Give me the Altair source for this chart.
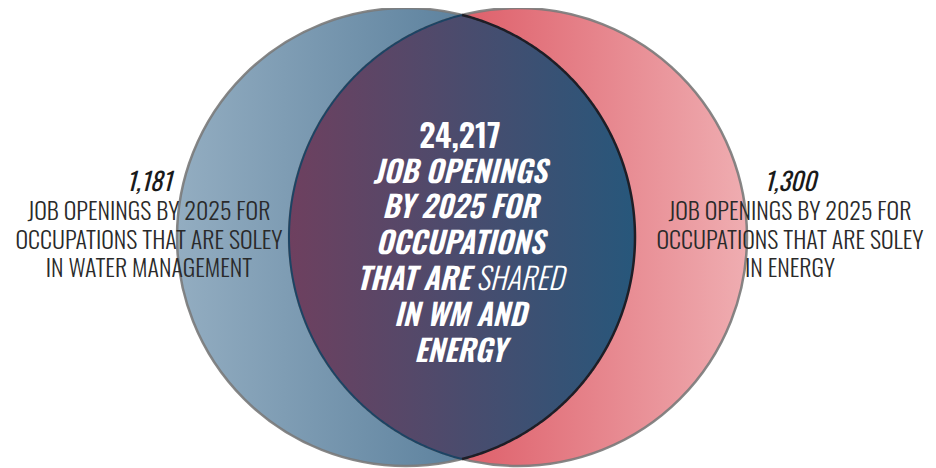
import numpy as np
import pandas as pd
import altair as alt

# ---------------- data ----------------
circle_names = ["Water Management", "Energy"]
circle_cx = [398, 510]          # circle centres (chart units)
circle_cy = [229, 229]
circle_r = [229, 229]

left_value = "1,181"
left_lines = ["JOB OPENINGS BY 2025 FOR", "OCCUPATIONS THAT ARE SOLEY", "IN WATER MANAGEMENT"]
right_value = "1,300"
right_lines = ["JOB OPENINGS BY 2025 FOR", "OCCUPATIONS THAT ARE SOLEY", "IN ENERGY"]
shared_value = "24,217"
shared_lines = ["JOB OPENINGS", "BY 2025 FOR", "OCCUPATIONS", "THAT ARE|SHARED", "IN WM AND", "ENERGY"]

W, H = 920, 460
FONT = "Oswald, Roboto Condensed, sans-serif"

xs = alt.Scale(domain=[0, W], range=[0, W])
ys = alt.Scale(domain=[0, H], range=[0, H])


def grad(stops):
    return alt.LinearGradient(
        gradient="linear",
        stops=[alt.GradientStop(color=c, offset=o) for o, c in stops],
        x1=0, x2=1, y1=0, y2=0,
    )


def circle_layer(i, stops):
    df = pd.DataFrame({"name": [circle_names[i]], "cx": [circle_cx[i]], "cy": [circle_cy[i]],
                       "s": [(2 * circle_r[i]) ** 2]})
    return alt.Chart(df).mark_circle(
        fill=grad(stops), opacity=1, stroke="#7a7a7a", strokeWidth=2.5, strokeOpacity=0.9
    ).encode(
        x=alt.X("cx:Q", scale=xs, axis=None),
        y=alt.Y("cy:Q", scale=ys, axis=None),
        size=alt.Size("s:Q", scale=None, legend=None),
    )


left_c = circle_layer(0, [(0, "#93adc1"), (1, "#3d6889")])
right_c = circle_layer(1, [(0, "#d4303f"), (1, "#efadb1")])

# ---------------- lens (intersection) geometry ----------------
cxL, cxR, cy, r = circle_cx[0], circle_cx[1], circle_cy[0], circle_r[0]
d_half = (cxR - cxL) / 2
t_int = np.arccos(d_half / r)
t = np.linspace(0, t_int, 240)
xl = cxR - r * np.cos(t)
hl = r * np.sin(t)
xr = cxL + r * np.cos(t[::-1])
hr = r * np.sin(t[::-1])
lens = pd.DataFrame({"x": np.concatenate([xl, xr]),
                     "y": cy - np.concatenate([hl, hr]),
                     "y2": cy + np.concatenate([hl, hr])})

lens_area = alt.Chart(lens).mark_area(
    fill=grad([(0, "#6e405f"), (1, "#27577b")]), opacity=1, interpolate="linear"
).encode(
    x=alt.X("x:Q", scale=xs, axis=None),
    y=alt.Y("y:Q", scale=ys, axis=None),
    y2="y2:Q",
)

ta = np.linspace(-t_int, t_int, 300)
arc_left = pd.DataFrame({"x": cxR - r * np.cos(ta), "y": cy + r * np.sin(ta), "o": np.arange(len(ta))})
arc_right = pd.DataFrame({"x": cxL + r * np.cos(ta), "y": cy + r * np.sin(ta), "o": np.arange(len(ta))})


def arc_layer(df, color, w):
    return alt.Chart(df).mark_line(color=color, strokeWidth=w).encode(
        x=alt.X("x:Q", scale=xs, axis=None),
        y=alt.Y("y:Q", scale=ys, axis=None),
        order="o:Q",
    )


arcL = arc_layer(arc_left, "#1c4464", 2)
arcR = arc_layer(arc_right, "#1e1e26", 2.5)

enc = dict(x=alt.X("x:Q", scale=xs, axis=None), y=alt.Y("y:Q", scale=ys, axis=None), text="t:N")


# ---------------- texts ----------------
def side_text(cx_txt, value, lines):
    v = pd.DataFrame({"t": [value], "x": [cx_txt], "y": [175]})
    l = pd.DataFrame({"t": lines, "x": [cx_txt] * len(lines),
                      "y": [205 + 28.5 * i for i in range(len(lines))]})
    val = alt.Chart(v).mark_text(font=FONT, fontSize=25, fontStyle="italic", fontWeight=400,
                                 color="#1a1a1a").encode(**enc)
    lin = alt.Chart(l).mark_text(font=FONT, fontSize=24, fontWeight=300,
                                 color="#2a2a2a").encode(**enc)
    return val + lin


left_txt = side_text(141, left_value, left_lines)
right_txt = side_text(782, right_value, right_lines)

CX = 452
rows = []
for i, ln in enumerate(shared_lines):
    y = 165.5 + 35.8 * i
    if "|" in ln:
        a, b = ln.split("|")
        rows.append({"t": a, "x": CX + 10, "y": y, "kind": "bold_r"})
        rows.append({"t": b, "x": CX + 16, "y": y, "kind": "light_l"})
    else:
        rows.append({"t": ln, "x": CX, "y": y, "kind": "bold"})
cdf = pd.DataFrame(rows)

FS = 30
num_c = alt.Chart(pd.DataFrame({"t": [shared_value], "x": [CX], "y": [130]})).mark_text(
    font=FONT, fontSize=32, fontWeight=600, color="white").encode(**enc)
bold_c = alt.Chart(cdf).transform_filter(alt.datum.kind == "bold").mark_text(
    font=FONT, fontSize=FS, fontWeight=600, fontStyle="italic", color="white").encode(**enc)
bold_r = alt.Chart(cdf).transform_filter(alt.datum.kind == "bold_r").mark_text(
    font=FONT, fontSize=FS, fontWeight=600, fontStyle="italic", color="white", align="right").encode(**enc)
light_l = alt.Chart(cdf).transform_filter(alt.datum.kind == "light_l").mark_text(
    font=FONT, fontSize=FS, fontWeight=300, fontStyle="italic", color="white", align="left").encode(**enc)

chart = alt.layer(
    left_c, right_c, lens_area, arcL, arcR,
    left_txt, right_txt, num_c, bold_c, bold_r, light_l,
).properties(width=W, height=H, padding=0, autosize="none").configure_view(stroke=None)

chart.save("out.html", embed_options={"renderer": "svg", "actions": False})
